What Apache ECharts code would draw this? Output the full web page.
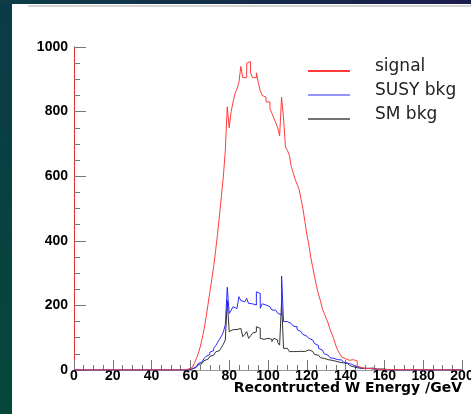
<!DOCTYPE html>
<html><head><meta charset="utf-8">
<script src="https://cdn.jsdelivr.net/npm/echarts@6/dist/echarts.min.js"></script>
<style>html,body{margin:0;padding:0;background:#0b3947;}#c{width:471px;height:414px;}</style>
</head><body><div id="c"></div>
<script>
// Histogram: 1 GeV bins, low edges starting at binStart
const binStart = 55;
const signal = [0,0,2,3,5,
 8,12,20,35,50,70,95,125,160,200,
 240,280,320,370,420,480,540,600,680,815,
 750,800,830,856,870,890,940,905,905,950,
 955,920,905,905,920,890,865,850,845,830,
 830,810,795,780,765,750,725,845,780,690,
 680,665,630,610,590,575,560,530,500,460,
 420,390,350,320,290,260,235,215,190,175,
 160,145,125,110,95,75,60,50,40,35,
 32,30,30,32,30,28,12,8,6,5,
 4,5,3,4,5,3,4,2,3,2,
 2,1,2,1,0];
const susyBkg = [0,0,0,1,2,
 4,6,10,14,20,25,30,35,42,48,
 55,60,67,75,85,95,105,118,140,256,
 175,185,196,190,186,227,215,211,215,222,
 206,205,200,201,242,237,191,205,201,200,
 196,190,186,185,180,176,170,291,150,150,
 148,144,140,136,134,125,119,115,110,105,
 103,98,93,88,82,76,67,62,56,50,
 46,42,38,36,34,32,31,31,28,24,
 21,20,18,16,12,10,8,6,5,4,
 5,3,4,2,3,2,1,2,1,1,
 1,0,0,0,0];
const smBkg = [0,0,0,0,1,
 3,5,8,12,16,20,25,29,33,37,
 42,46,52,56,60,65,70,80,93,215,
 119,125,129,125,119,129,124,103,110,119,
 98,105,114,118,134,129,98,95,93,98,
 103,95,88,98,93,85,77,212,67,67,
 62,57,57,56,57,55,58,56,57,60,
 62,60,58,52,48,46,42,38,36,34,
 32,31,30,28,27,26,24,23,22,21,
 21,18,14,10,8,7,6,5,6,5,
 7,5,4,6,5,3,4,3,2,3,
 2,1,0,0,0];
const seriesNames = ['signal','SUSY bkg','SM bkg'];
const xTitle = 'Recontructed W Energy /GeV';

function toSteps(vals){
  const pts = [[0,0]];
  vals.forEach((v,i)=>pts.push([binStart+i, v]));
  pts.push([binStart+vals.length, 0]);
  pts.push([200, 0]);
  return pts;
}

const chart = echarts.init(document.getElementById('c'), null, {renderer:'canvas'});
const lab = {fontFamily:'Liberation Sans, Arial, sans-serif', fontWeight:'bold', fontSize:14, color:'#000'};
const legendY = [71, 95, 119];
const legendCol = ['#ff3b3b','#2a2aff','#444'];
const legendW = [2, 1.2, 1.5];
const graphics = [
  {type:'rect', shape:{x:0,y:0,width:471,height:414}, style:{fill:new echarts.graphic.LinearGradient(0,0,0,1,[{offset:0,color:'#0c3a48'},{offset:1,color:'#05483a'}])}, z:-10},
  {type:'rect', shape:{x:0,y:0,width:471,height:4}, style:{fill:new echarts.graphic.LinearGradient(0,0,1,0,[{offset:0,color:'#0d3d47'},{offset:1,color:'#1c1c4e'}])}, z:-9},
  {type:'rect', shape:{x:12,y:4,width:459,height:410}, style:{fill:'#ffffff'}, z:-8},
  {type:'line', shape:{x1:28,y1:6,x2:471,y2:6}, style:{stroke:'#d4d4d4', lineWidth:2}, z:-7},
  {type:'text', x:462, y:381, style:{text:xTitle, fill:'#000', font:'bold 14px "DejaVu Sans", sans-serif', align:'right', verticalAlign:'top'}}
];
seriesNames.forEach((n,i)=>{
  graphics.push({type:'line', shape:{x1:308,y1:legendY[i],x2:350,y2:legendY[i]}, style:{stroke:legendCol[i], lineWidth:legendW[i]}});
  graphics.push({type:'text', x:375, y:legendY[i]-4, style:{text:n, fill:'#222', font:'17px "DejaVu Sans", sans-serif', verticalAlign:'middle'}});
});

chart.setOption({
  animation:false,
  backgroundColor:'transparent',
  graphic: graphics,
  grid:{left:74, right:9, top:47, bottom:44, containLabel:false, outerBoundsMode:'none'},
  xAxis:[{
    type:'value', min:0, max:200, interval:20,
    axisLine:{show:true, onZero:false, lineStyle:{color:'#e03030', width:1}},
    axisTick:{inside:true, length:10, lineStyle:{color:'#777'}},
    minorTick:{show:true, splitNumber:4, length:5, lineStyle:{color:'#777'}},
    splitLine:{show:false},
    axisLabel:Object.assign({margin:0, lineHeight:13, formatter:v=>String(v)}, lab)
  },{
    type:'value', position:'top', min:0, max:200,
    axisLine:{show:true, lineStyle:{color:'#999'}}, axisTick:{show:false}, axisLabel:{show:false}, splitLine:{show:false}
  }],
  yAxis:[{
    type:'value', min:0, max:1000, interval:200,
    axisLine:{show:true, onZero:false, lineStyle:{color:'#999'}},
    axisTick:{inside:true, length:12, lineStyle:{color:'#777'}},
    minorTick:{show:true, splitNumber:4, length:6, lineStyle:{color:'#777'}},
    splitLine:{show:false},
    axisLabel:Object.assign({margin:6, formatter:v=>String(v)}, lab)
  },{
    type:'value', position:'right', min:0, max:1000,
    axisLine:{show:true, lineStyle:{color:'#e03030'}}, axisTick:{show:false}, axisLabel:{show:false}, splitLine:{show:false}
  }],
  series:[
    {name:'SM bkg', type:'line', step:'end', showSymbol:false, data:toSteps(smBkg), lineStyle:{color:'#333', width:1}, z:3},
    {name:'SUSY bkg', type:'line', step:'end', showSymbol:false, data:toSteps(susyBkg), lineStyle:{color:'#2a2aff', width:1}, z:4},
    {name:'signal', type:'line', step:'end', showSymbol:false, data:toSteps(signal), lineStyle:{color:'#ff3b3b', width:1}, z:5}
  ]
});
</script></body></html>
